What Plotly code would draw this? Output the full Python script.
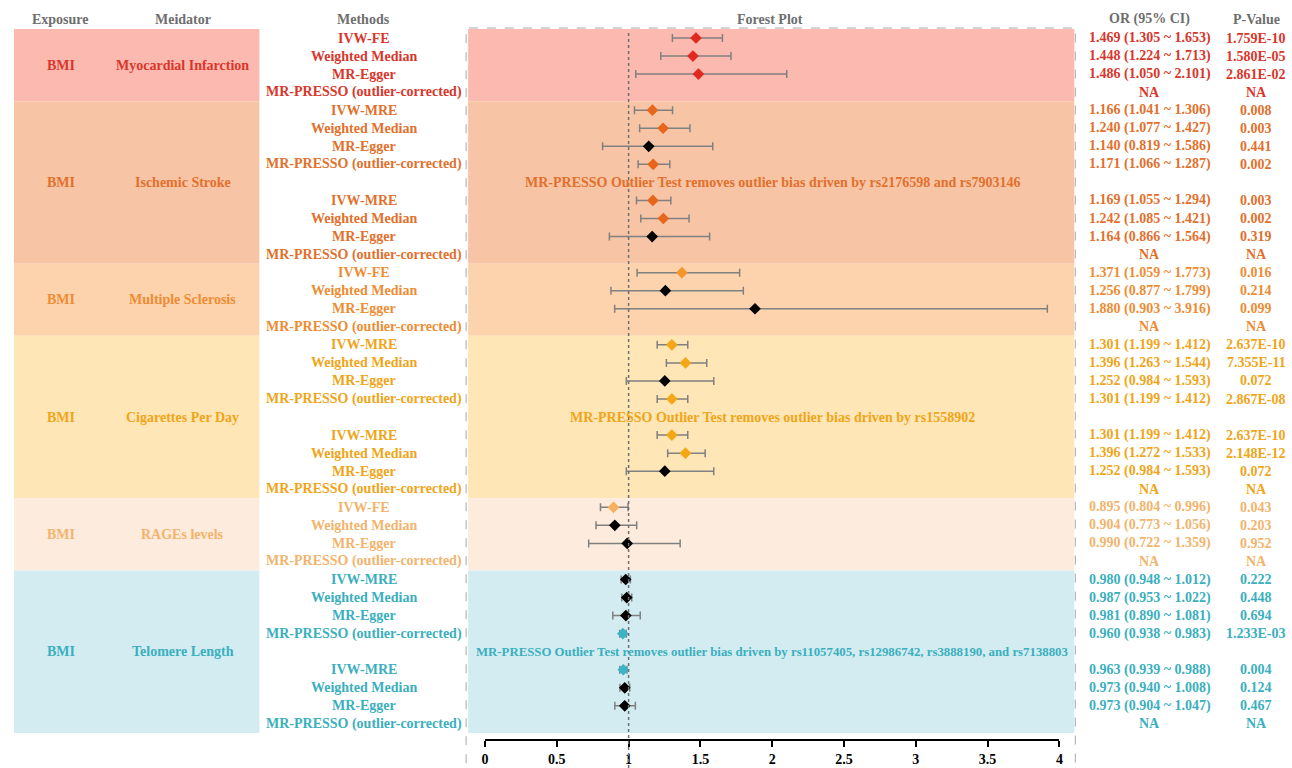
import plotly.graph_objects as go

# ---------------- data ----------------
exposures = ["BMI", "BMI", "BMI", "BMI", "BMI", "BMI"]
mediators = ["Myocardial Infarction", "Ischemic Stroke", "Multiple Sclerosis",
             "Cigarettes Per Day", "RAGEs levels", "Telomere Length"]
group_sizes = [4, 9, 4, 9, 4, 9]

methods = [
    "IVW-FE", "Weighted Median", "MR-Egger", "MR-PRESSO (outlier-corrected)",
    "IVW-MRE", "Weighted Median", "MR-Egger", "MR-PRESSO (outlier-corrected)", None,
    "IVW-MRE", "Weighted Median", "MR-Egger", "MR-PRESSO (outlier-corrected)",
    "IVW-FE", "Weighted Median", "MR-Egger", "MR-PRESSO (outlier-corrected)",
    "IVW-MRE", "Weighted Median", "MR-Egger", "MR-PRESSO (outlier-corrected)", None,
    "IVW-MRE", "Weighted Median", "MR-Egger", "MR-PRESSO (outlier-corrected)",
    "IVW-FE", "Weighted Median", "MR-Egger", "MR-PRESSO (outlier-corrected)",
    "IVW-MRE", "Weighted Median", "MR-Egger", "MR-PRESSO (outlier-corrected)", None,
    "IVW-MRE", "Weighted Median", "MR-Egger", "MR-PRESSO (outlier-corrected)",
]
or_est = [1.469, 1.448, 1.486, None,
          1.166, 1.240, 1.140, 1.171, None, 1.169, 1.242, 1.164, None,
          1.371, 1.256, 1.880, None,
          1.301, 1.396, 1.252, 1.301, None, 1.301, 1.396, 1.252, None,
          0.895, 0.904, 0.990, None,
          0.980, 0.987, 0.981, 0.960, None, 0.963, 0.973, 0.973, None]
ci_lo = [1.305, 1.224, 1.050, None,
         1.041, 1.077, 0.819, 1.066, None, 1.055, 1.085, 0.866, None,
         1.059, 0.877, 0.903, None,
         1.199, 1.263, 0.984, 1.199, None, 1.199, 1.272, 0.984, None,
         0.804, 0.773, 0.722, None,
         0.948, 0.953, 0.890, 0.938, None, 0.939, 0.940, 0.904, None]
ci_hi = [1.653, 1.713, 2.101, None,
         1.306, 1.427, 1.586, 1.287, None, 1.294, 1.421, 1.564, None,
         1.773, 1.799, 3.916, None,
         1.412, 1.544, 1.593, 1.412, None, 1.412, 1.533, 1.593, None,
         0.996, 1.056, 1.359, None,
         1.012, 1.022, 1.081, 0.983, None, 0.988, 1.008, 1.047, None]
p_values = ["1.759E-10", "1.580E-05", "2.861E-02", "NA",
            "0.008", "0.003", "0.441", "0.002", None, "0.003", "0.002", "0.319", "NA",
            "0.016", "0.214", "0.099", "NA",
            "2.637E-10", "7.355E-11", "0.072", "2.867E-08", None, "2.637E-10", "2.148E-12", "0.072", "NA",
            "0.043", "0.203", "0.952", "NA",
            "0.222", "0.448", "0.694", "1.233E-03", None, "0.004", "0.124", "0.467", "NA"]
outlier_notes = [
    "MR-PRESSO Outlier Test removes outlier bias driven by rs2176598 and rs7903146",
    "MR-PRESSO Outlier Test removes outlier bias driven by rs1558902",
    "MR-PRESSO Outlier Test removes outlier bias driven by rs11057405, rs12986742, rs3888190, and rs7138803",
]
outlier_note_groups = [1, 3, 5]

axis_ticks = [0, 0.5, 1, 1.5, 2, 2.5, 3, 3.5, 4]
axis_tick_labels = ["0", "0.5", "1", "1.5", "2", "2.5", "3", "3.5", "4"]
headers = ["Exposure", "Meidator", "Methods", "Forest Plot", "OR (95% CI)", "P-Value"]

# ---------------- style ----------------
W, H = 1292, 768
band_colors = ["#FCB9B0", "#F7C4A5", "#FDD3AE", "#FEE6B6", "#FDEBDD", "#D3ECF2"]
text_colors = ["#D9362B", "#E2702C", "#EE8C33", "#F0A519", "#F2B46C", "#3AAFBE"]
marker_colors = ["#E02A1F", "#E8661A", "#F5962A", "#F5A614", "#F6B060", "#3AB4C4"]
note_font_sizes = [14, 14, 12.8]
header_color = "#6E6E6E"
FONT = "Liberation Serif"

def px(x):
    return x / W

def pyp(y):
    return 1 - y / H

row0_px, pitch = 38.0, 18.05
y_top = 1 - row0_px / pitch
y_bot = 1 + (H - row0_px) / pitch

def fnt(color, size=14):
    return dict(family=FONT, size=size, color=color, weight="bold")

def label(x, y, text, color, size=14):
    return dict(x=px(x), y=y, xref="paper", yref="y", text=text, showarrow=False,
                xanchor="center", yanchor="middle", font=fnt(color, size))

n_rows = len(methods)
rows = list(range(1, n_rows + 1))

row_group = []
for g, n in enumerate(group_sizes):
    row_group += [g] * n

shapes = []
annotations = []

# group bands and left-column labels
start = 1
for g, n in enumerate(group_sizes):
    r0, r1 = start - 0.5, start + n - 0.5
    for x0, x1 in [(10, 257), (467, 1077)]:
        shapes.append(dict(type="rect", xref="paper", yref="y", x0=px(x0), x1=px(x1),
                           y0=r0, y1=r1, fillcolor=band_colors[g], line=dict(width=0),
                           layer="below"))
    mid = start + (n - 1) / 2
    annotations.append(label(57, mid, exposures[g], text_colors[g]))
    annotations.append(label(180, mid, mediators[g], text_colors[g]))
    start += n

# headers
header_x = [57, 180, 362, 771, 1153, 1260]
for hx, ht in zip(header_x, headers):
    annotations.append(label(hx, -0.05, ht, header_color))

# method / OR / p text
for i, r in enumerate(rows):
    c = text_colors[row_group[i]]
    if methods[i] is None:
        continue
    annotations.append(label(362, r, methods[i], c))
    if or_est[i] is None:
        or_txt = "NA"
    else:
        or_txt = f"{or_est[i]:.3f} ({ci_lo[i]:.3f} ~ {ci_hi[i]:.3f})"
    annotations.append(label(1153, r, or_txt, c))
    annotations.append(label(1260, r, p_values[i], c))

# outlier notes (5th row of group)
group_starts = [1 + sum(group_sizes[:g]) for g in range(len(group_sizes))]
for note, g, fs in zip(outlier_notes, outlier_note_groups, note_font_sizes):
    annotations.append(label(773, group_starts[g] + 4, note, text_colors[g], fs))

# forest plot frame and reference line
shapes.append(dict(type="rect", xref="paper", yref="paper", x0=px(465), x1=px(1078),
                   y0=-0.02, y1=pyp(28), line=dict(color="#A8A8A8", width=1, dash="dash"),
                   fillcolor="rgba(0,0,0,0)", layer="above"))
shapes.append(dict(type="line", xref="x", yref="paper", x0=1, x1=1, y0=0, y1=pyp(30),
                   line=dict(color="#6F6F6F", width=1.5, dash="dot"), layer="above"))

# markers
xs, ys, ep, em, cols = [], [], [], [], []
for i, r in enumerate(rows):
    if or_est[i] is None:
        continue
    xs.append(or_est[i])
    ys.append(r)
    ep.append(ci_hi[i] - or_est[i])
    em.append(or_est[i] - ci_lo[i])
    p = float(p_values[i])
    cols.append("#000000" if p >= 0.05 else marker_colors[row_group[i]])

fig = go.Figure()
fig.add_trace(go.Scatter(
    x=xs, y=ys, mode="markers",
    marker=dict(symbol="diamond", size=9, color=cols, line=dict(width=0)),
    error_x=dict(type="data", symmetric=False, array=ep, arrayminus=em,
                 color="#808080", thickness=1.5, width=4),
    showlegend=False, hoverinfo="skip", cliponaxis=False,
))

fig.update_layout(
    width=W, height=H,
    margin=dict(l=0, r=0, t=0, b=0),
    paper_bgcolor="white", plot_bgcolor="rgba(0,0,0,0)",
    shapes=shapes, annotations=annotations,
    xaxis=dict(domain=[px(484), px(1062)], range=[0, 4], anchor="free", position=pyp(740),
               showline=True, linecolor="black", linewidth=1.5, ticks="outside",
               ticklen=6, tickwidth=1.5, tickcolor="black",
               tickvals=axis_ticks, ticktext=axis_tick_labels, showgrid=False,
               zeroline=False, tickfont=fnt("black")),
    yaxis=dict(domain=[0, 1], range=[y_bot, y_top], visible=False, showgrid=False,
               zeroline=False),
)

fig.write_html("out.html")
